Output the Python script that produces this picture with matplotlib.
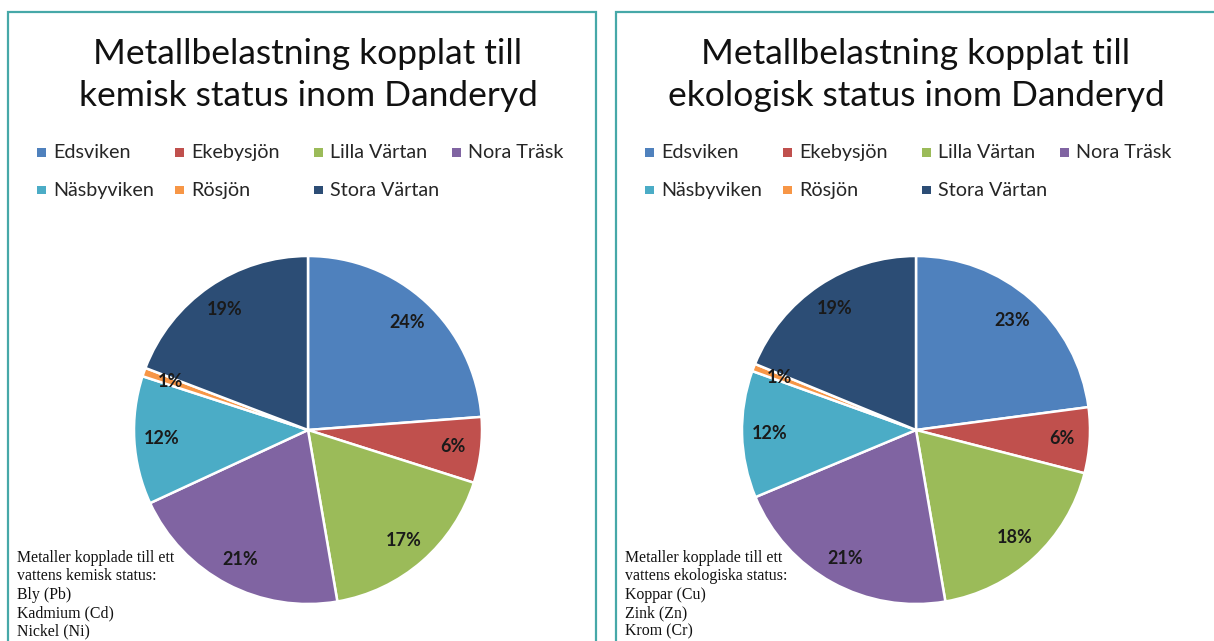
import matplotlib.pyplot as plt
from matplotlib.patches import Rectangle

# Andel metallbelastning per vattenförekomst (%)
lakes = ["Edsviken", "Ekebysjön", "Lilla Värtan", "Nora Träsk",
         "Näsbyviken", "Rösjön", "Stora Värtan"]
kemisk = [23.8, 6.1, 17.4, 20.8, 11.9, 0.8, 19.2]
ekologisk = [22.9, 6.1, 18.3, 21.4, 11.8, 0.7, 18.8]

colors = ["#4F81BD", "#C0504D", "#9BBB59", "#8064A2",
          "#4BACC6", "#F79646", "#2C4D75"]

titles = ["Metallbelastning kopplat till\nkemisk status inom Danderyd",
          "Metallbelastning kopplat till\nekologisk status inom Danderyd"]
notes = ["Metaller kopplade till ett\nvattens kemisk status:\nBly (Pb)\nKadmium (Cd)\nNickel (Ni)",
         "Metaller kopplade till ett\nvattens ekologiska status:\nKoppar (Cu)\nZink (Zn)\nKrom (Cr)"]

W, H = 1214, 641
fig = plt.figure(figsize=(W / 100, H / 100), dpi=100)
fig.patch.set_facecolor("white")


def fx(px):
    return px / W


def fy(py):
    return 1 - py / H


def draw_panel(x0, x1, cx, values, title, note):
    # ram runt diagrammet
    fig.add_artist(Rectangle((fx(x0), fy(H + 10)), fx(x1 - x0), fy(12) - fy(H + 10),
                             transform=fig.transFigure, fill=False,
                             edgecolor="#46A8A8", linewidth=1.6))

    fig.text(fx(cx), fy(75), title, ha="center", va="center",
             fontsize=25.5, family="Lato", color="#111111", linespacing=1.36)

    # förklaring i två rader
    for i, (name, c) in enumerate(zip(lakes, colors)):
        row, col = divmod(i, 4)
        lx = x0 + 33 + col * 138.5
        ly = 152 + row * 38
        fig.add_artist(Rectangle((fx(lx - 4.5), fy(ly + 4.5)), fx(9), fy(ly - 4.5) - fy(ly + 4.5),
                                 transform=fig.transFigure, facecolor=c, edgecolor="none"))
        fig.text(fx(lx + 12), fy(ly), name, ha="left", va="center",
                 fontsize=14.2, family="Lato", color="#262626")

    r = 174
    ax = fig.add_axes([fx(cx - r), fy(430 + r), fx(2 * r), fy(430 - r) - fy(430 + r)])
    wedges, texts, autotexts = ax.pie(
        values, colors=colors, startangle=90, counterclock=False,
        autopct="%.0f%%", pctdistance=0.84,
        wedgeprops=dict(edgecolor="white", linewidth=1.8),
        textprops=dict(fontsize=13, fontweight="bold", family="Lato", color="#1a1a1a"))
    ax.set_xlim(-1, 1)
    ax.set_ylim(-1, 1)
    ax.set_aspect("equal")
    ax.axis("off")

    fig.text(fx(x0 + 9), fy(550), note, ha="left", va="top",
             fontsize=11.4, family="Liberation Serif", color="#111111", linespacing=1.2)


draw_panel(8, 596, 308, kemisk, titles[0], notes[0])
draw_panel(616, W + 20, 916, ekologisk, titles[1], notes[1])

fig.savefig("out.png", dpi=100)
